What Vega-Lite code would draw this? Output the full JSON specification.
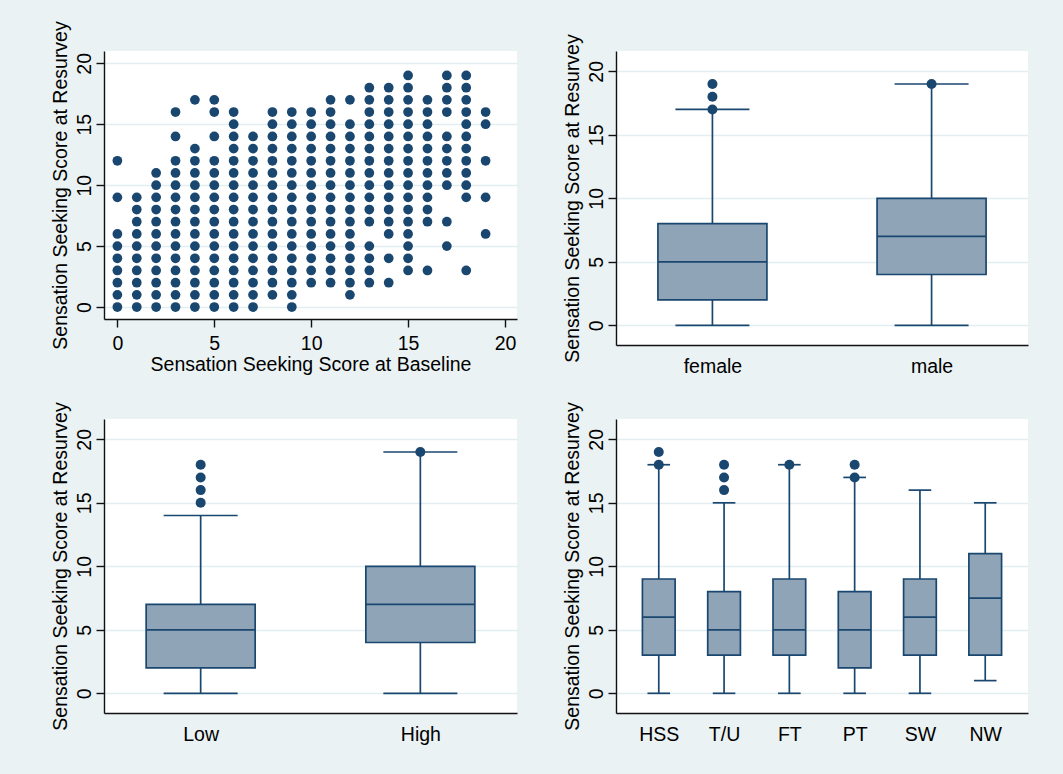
{
  "$schema": "https://vega.github.io/schema/vega-lite/v6.json",
  "background": "#EAF2F3",
  "padding": {"left": 49, "top": 20, "right": 35, "bottom": 31},
  "columns": 2,
  "bounds": "flush",
  "spacing": {"row": 74, "column": 99},
  "config": {
    "font": "Liberation Sans",
    "view": {"fill": "white", "stroke": null},
    "axis": {
      "labelFont": "Liberation Sans", "titleFont": "Liberation Sans",
      "labelFontSize": 19.5, "titleFontSize": 19.5,
      "labelColor": "#000000", "titleColor": "#000000", "titleFontWeight": "normal",
      "domainColor": "#111111", "tickColor": "#111111", "domainWidth": 1.4, "tickWidth": 1.4, "tickSize": 8,
      "gridColor": "#E4EDF0", "gridWidth": 1.6, "labelFlush": false, "labelOverlap": false
    },
    "axisX": {"grid": false},
    "axisY": {"grid": true, "labelAngle": -90, "labelAlign": "center", "labelBaseline": "bottom", "labelPadding": 2, "titlePadding": 4}
  },
  "datasets": {
    "scatter": [
      {"baseline":0,"resurvey":0},{"baseline":0,"resurvey":1},{"baseline":0,"resurvey":2},{"baseline":0,"resurvey":3},{"baseline":0,"resurvey":4},{"baseline":0,"resurvey":5},{"baseline":0,"resurvey":6},{"baseline":0,"resurvey":9},{"baseline":0,"resurvey":12},
      {"baseline":1,"resurvey":0},{"baseline":1,"resurvey":1},{"baseline":1,"resurvey":2},{"baseline":1,"resurvey":3},{"baseline":1,"resurvey":4},{"baseline":1,"resurvey":5},{"baseline":1,"resurvey":6},{"baseline":1,"resurvey":7},{"baseline":1,"resurvey":8},{"baseline":1,"resurvey":9},
      {"baseline":2,"resurvey":0},{"baseline":2,"resurvey":1},{"baseline":2,"resurvey":2},{"baseline":2,"resurvey":3},{"baseline":2,"resurvey":4},{"baseline":2,"resurvey":5},{"baseline":2,"resurvey":6},{"baseline":2,"resurvey":7},{"baseline":2,"resurvey":8},{"baseline":2,"resurvey":9},{"baseline":2,"resurvey":10},{"baseline":2,"resurvey":11},
      {"baseline":3,"resurvey":0},{"baseline":3,"resurvey":1},{"baseline":3,"resurvey":2},{"baseline":3,"resurvey":3},{"baseline":3,"resurvey":4},{"baseline":3,"resurvey":5},{"baseline":3,"resurvey":6},{"baseline":3,"resurvey":7},{"baseline":3,"resurvey":8},{"baseline":3,"resurvey":9},{"baseline":3,"resurvey":10},{"baseline":3,"resurvey":11},{"baseline":3,"resurvey":12},{"baseline":3,"resurvey":14},{"baseline":3,"resurvey":16},
      {"baseline":4,"resurvey":0},{"baseline":4,"resurvey":1},{"baseline":4,"resurvey":2},{"baseline":4,"resurvey":3},{"baseline":4,"resurvey":4},{"baseline":4,"resurvey":5},{"baseline":4,"resurvey":6},{"baseline":4,"resurvey":7},{"baseline":4,"resurvey":8},{"baseline":4,"resurvey":9},{"baseline":4,"resurvey":10},{"baseline":4,"resurvey":11},{"baseline":4,"resurvey":12},{"baseline":4,"resurvey":13},{"baseline":4,"resurvey":17},
      {"baseline":5,"resurvey":0},{"baseline":5,"resurvey":1},{"baseline":5,"resurvey":2},{"baseline":5,"resurvey":3},{"baseline":5,"resurvey":4},{"baseline":5,"resurvey":5},{"baseline":5,"resurvey":6},{"baseline":5,"resurvey":7},{"baseline":5,"resurvey":8},{"baseline":5,"resurvey":9},{"baseline":5,"resurvey":10},{"baseline":5,"resurvey":11},{"baseline":5,"resurvey":12},{"baseline":5,"resurvey":14},{"baseline":5,"resurvey":16},{"baseline":5,"resurvey":17},
      {"baseline":6,"resurvey":0},{"baseline":6,"resurvey":1},{"baseline":6,"resurvey":2},{"baseline":6,"resurvey":3},{"baseline":6,"resurvey":4},{"baseline":6,"resurvey":5},{"baseline":6,"resurvey":6},{"baseline":6,"resurvey":7},{"baseline":6,"resurvey":8},{"baseline":6,"resurvey":9},{"baseline":6,"resurvey":10},{"baseline":6,"resurvey":11},{"baseline":6,"resurvey":12},{"baseline":6,"resurvey":13},{"baseline":6,"resurvey":14},{"baseline":6,"resurvey":15},{"baseline":6,"resurvey":16},
      {"baseline":7,"resurvey":0},{"baseline":7,"resurvey":1},{"baseline":7,"resurvey":2},{"baseline":7,"resurvey":3},{"baseline":7,"resurvey":4},{"baseline":7,"resurvey":5},{"baseline":7,"resurvey":6},{"baseline":7,"resurvey":7},{"baseline":7,"resurvey":8},{"baseline":7,"resurvey":9},{"baseline":7,"resurvey":10},{"baseline":7,"resurvey":11},{"baseline":7,"resurvey":12},{"baseline":7,"resurvey":13},{"baseline":7,"resurvey":14},
      {"baseline":8,"resurvey":1},{"baseline":8,"resurvey":2},{"baseline":8,"resurvey":3},{"baseline":8,"resurvey":4},{"baseline":8,"resurvey":5},{"baseline":8,"resurvey":6},{"baseline":8,"resurvey":7},{"baseline":8,"resurvey":8},{"baseline":8,"resurvey":9},{"baseline":8,"resurvey":10},{"baseline":8,"resurvey":11},{"baseline":8,"resurvey":12},{"baseline":8,"resurvey":13},{"baseline":8,"resurvey":14},{"baseline":8,"resurvey":15},{"baseline":8,"resurvey":16},
      {"baseline":9,"resurvey":0},{"baseline":9,"resurvey":1},{"baseline":9,"resurvey":2},{"baseline":9,"resurvey":3},{"baseline":9,"resurvey":4},{"baseline":9,"resurvey":5},{"baseline":9,"resurvey":6},{"baseline":9,"resurvey":7},{"baseline":9,"resurvey":8},{"baseline":9,"resurvey":9},{"baseline":9,"resurvey":10},{"baseline":9,"resurvey":11},{"baseline":9,"resurvey":12},{"baseline":9,"resurvey":13},{"baseline":9,"resurvey":14},{"baseline":9,"resurvey":15},{"baseline":9,"resurvey":16},
      {"baseline":10,"resurvey":2},{"baseline":10,"resurvey":3},{"baseline":10,"resurvey":4},{"baseline":10,"resurvey":5},{"baseline":10,"resurvey":6},{"baseline":10,"resurvey":7},{"baseline":10,"resurvey":8},{"baseline":10,"resurvey":9},{"baseline":10,"resurvey":10},{"baseline":10,"resurvey":11},{"baseline":10,"resurvey":12},{"baseline":10,"resurvey":13},{"baseline":10,"resurvey":14},{"baseline":10,"resurvey":15},{"baseline":10,"resurvey":16},
      {"baseline":11,"resurvey":2},{"baseline":11,"resurvey":3},{"baseline":11,"resurvey":4},{"baseline":11,"resurvey":5},{"baseline":11,"resurvey":6},{"baseline":11,"resurvey":7},{"baseline":11,"resurvey":8},{"baseline":11,"resurvey":9},{"baseline":11,"resurvey":10},{"baseline":11,"resurvey":11},{"baseline":11,"resurvey":12},{"baseline":11,"resurvey":13},{"baseline":11,"resurvey":14},{"baseline":11,"resurvey":15},{"baseline":11,"resurvey":16},{"baseline":11,"resurvey":17},
      {"baseline":12,"resurvey":1},{"baseline":12,"resurvey":2},{"baseline":12,"resurvey":3},{"baseline":12,"resurvey":4},{"baseline":12,"resurvey":5},{"baseline":12,"resurvey":6},{"baseline":12,"resurvey":7},{"baseline":12,"resurvey":8},{"baseline":12,"resurvey":9},{"baseline":12,"resurvey":10},{"baseline":12,"resurvey":11},{"baseline":12,"resurvey":12},{"baseline":12,"resurvey":13},{"baseline":12,"resurvey":14},{"baseline":12,"resurvey":15},{"baseline":12,"resurvey":17},
      {"baseline":13,"resurvey":2},{"baseline":13,"resurvey":3},{"baseline":13,"resurvey":4},{"baseline":13,"resurvey":5},{"baseline":13,"resurvey":7},{"baseline":13,"resurvey":8},{"baseline":13,"resurvey":9},{"baseline":13,"resurvey":10},{"baseline":13,"resurvey":11},{"baseline":13,"resurvey":12},{"baseline":13,"resurvey":13},{"baseline":13,"resurvey":14},{"baseline":13,"resurvey":15},{"baseline":13,"resurvey":16},{"baseline":13,"resurvey":17},{"baseline":13,"resurvey":18},
      {"baseline":14,"resurvey":2},{"baseline":14,"resurvey":4},{"baseline":14,"resurvey":6},{"baseline":14,"resurvey":7},{"baseline":14,"resurvey":8},{"baseline":14,"resurvey":9},{"baseline":14,"resurvey":10},{"baseline":14,"resurvey":11},{"baseline":14,"resurvey":12},{"baseline":14,"resurvey":13},{"baseline":14,"resurvey":14},{"baseline":14,"resurvey":15},{"baseline":14,"resurvey":16},{"baseline":14,"resurvey":17},{"baseline":14,"resurvey":18},
      {"baseline":15,"resurvey":3},{"baseline":15,"resurvey":4},{"baseline":15,"resurvey":5},{"baseline":15,"resurvey":6},{"baseline":15,"resurvey":7},{"baseline":15,"resurvey":8},{"baseline":15,"resurvey":9},{"baseline":15,"resurvey":10},{"baseline":15,"resurvey":11},{"baseline":15,"resurvey":12},{"baseline":15,"resurvey":13},{"baseline":15,"resurvey":14},{"baseline":15,"resurvey":15},{"baseline":15,"resurvey":16},{"baseline":15,"resurvey":17},{"baseline":15,"resurvey":18},{"baseline":15,"resurvey":19},
      {"baseline":16,"resurvey":3},{"baseline":16,"resurvey":7},{"baseline":16,"resurvey":8},{"baseline":16,"resurvey":9},{"baseline":16,"resurvey":10},{"baseline":16,"resurvey":11},{"baseline":16,"resurvey":12},{"baseline":16,"resurvey":13},{"baseline":16,"resurvey":14},{"baseline":16,"resurvey":15},{"baseline":16,"resurvey":16},{"baseline":16,"resurvey":17},
      {"baseline":17,"resurvey":5},{"baseline":17,"resurvey":7},{"baseline":17,"resurvey":10},{"baseline":17,"resurvey":11},{"baseline":17,"resurvey":12},{"baseline":17,"resurvey":13},{"baseline":17,"resurvey":14},{"baseline":17,"resurvey":16},{"baseline":17,"resurvey":17},{"baseline":17,"resurvey":18},{"baseline":17,"resurvey":19},
      {"baseline":18,"resurvey":3},{"baseline":18,"resurvey":9},{"baseline":18,"resurvey":10},{"baseline":18,"resurvey":11},{"baseline":18,"resurvey":12},{"baseline":18,"resurvey":13},{"baseline":18,"resurvey":14},{"baseline":18,"resurvey":15},{"baseline":18,"resurvey":16},{"baseline":18,"resurvey":17},{"baseline":18,"resurvey":18},{"baseline":18,"resurvey":19},
      {"baseline":19,"resurvey":6},{"baseline":19,"resurvey":9},{"baseline":19,"resurvey":12},{"baseline":19,"resurvey":15},{"baseline":19,"resurvey":16}
    ],
    "boxSex": [
      {"group":"female","lo":0,"q1":2,"med":5,"q3":8,"hi":17},
      {"group":"male","lo":0,"q1":4,"med":7,"q3":10,"hi":19}
    ],
    "outSex": [
      {"group":"female","value":17},{"group":"female","value":18},{"group":"female","value":19},{"group":"male","value":19}
    ],
    "boxLevel": [
      {"group":"Low","lo":0,"q1":2,"med":5,"q3":7,"hi":14},
      {"group":"High","lo":0,"q1":4,"med":7,"q3":10,"hi":19}
    ],
    "outLevel": [
      {"group":"Low","value":15},{"group":"Low","value":16},{"group":"Low","value":17},{"group":"Low","value":18},{"group":"High","value":19}
    ],
    "boxWork": [
      {"group":"HSS","lo":0,"q1":3,"med":6,"q3":9,"hi":18},
      {"group":"T/U","lo":0,"q1":3,"med":5,"q3":8,"hi":15},
      {"group":"FT","lo":0,"q1":3,"med":5,"q3":9,"hi":18},
      {"group":"PT","lo":0,"q1":2,"med":5,"q3":8,"hi":17},
      {"group":"SW","lo":0,"q1":3,"med":6,"q3":9,"hi":16},
      {"group":"NW","lo":1,"q1":3,"med":7.5,"q3":11,"hi":15}
    ],
    "outWork": [
      {"group":"HSS","value":18},{"group":"HSS","value":19},
      {"group":"T/U","value":16},{"group":"T/U","value":17},{"group":"T/U","value":18},
      {"group":"FT","value":18},
      {"group":"PT","value":17},{"group":"PT","value":18}
    ]
  },
  "concat": [
    {
      "width": 413, "height": 268,
      "data": {"name": "scatter"},
      "mark": {"type": "point", "filled": true, "size": 95, "color": "#1A476F", "opacity": 1},
      "encoding": {
        "x": {"field": "baseline", "type": "quantitative",
              "scale": {"domain": [-0.69, 20.62], "nice": false, "zero": false},
              "axis": {"title": "Sensation Seeking Score at Baseline", "values": [0,5,10,15,20], "labelPadding": 7, "titlePadding": 3}},
        "y": {"field": "resurvey", "type": "quantitative",
              "scale": {"domain": [-0.98, 21.01], "nice": false, "zero": false},
              "axis": {"title": "Sensation Seeking Score at Resurvey", "values": [0,5,10,15,20]}}
      }
    },
    {
      "width": 412, "height": 294,
      "encoding": {
        "x": {"field": "group", "type": "nominal",
              "scale": {"type": "point", "padding": 0.44, "domain": ["female","male"]},
              "axis": {"title": null, "ticks": false, "tickSize": 0, "labelPadding": 12, "labelAngle": 0}}
      },
      "layer": [
        {"data": {"name": "boxSex"}, "mark": {"type": "rule", "color": "#1A476F", "strokeWidth": 1.7},
         "encoding": {"y": {"field": "lo", "type": "quantitative", "title": "Sensation Seeking Score at Resurvey",
                            "scale": {"domain": [-1.55, 21.6], "nice": false, "zero": false},
                            "axis": {"values": [0,5,10,15,20]}},
                      "y2": {"field": "hi"}}},
        {"data": {"name": "boxSex"}, "mark": {"type": "bar", "size": 109, "fill": "#90A4B8", "stroke": "#1A476F", "strokeWidth": 1.7},
         "encoding": {"y": {"field": "q1", "type": "quantitative", "title": "Sensation Seeking Score at Resurvey"}, "y2": {"field": "q3"}}},
        {"data": {"name": "boxSex"}, "mark": {"type": "tick", "size": 109, "thickness": 1.7, "color": "#1A476F", "opacity": 1},
         "encoding": {"y": {"field": "med", "type": "quantitative", "title": "Sensation Seeking Score at Resurvey"}}},
        {"data": {"name": "boxSex"}, "mark": {"type": "tick", "size": 74, "thickness": 1.7, "color": "#1A476F", "opacity": 1},
         "encoding": {"y": {"field": "lo", "type": "quantitative", "title": "Sensation Seeking Score at Resurvey"}}},
        {"data": {"name": "boxSex"}, "mark": {"type": "tick", "size": 74, "thickness": 1.7, "color": "#1A476F", "opacity": 1},
         "encoding": {"y": {"field": "hi", "type": "quantitative", "title": "Sensation Seeking Score at Resurvey"}}},
        {"data": {"name": "outSex"}, "mark": {"type": "point", "filled": true, "size": 100, "color": "#1A476F", "opacity": 1},
         "encoding": {"y": {"field": "value", "type": "quantitative", "title": "Sensation Seeking Score at Resurvey"}}}
      ]
    },
    {
      "width": 413, "height": 294,
      "encoding": {
        "x": {"field": "group", "type": "nominal",
              "scale": {"type": "point", "padding": 0.44, "domain": ["Low","High"]},
              "axis": {"title": null, "ticks": false, "tickSize": 0, "labelPadding": 12, "labelAngle": 0}}
      },
      "layer": [
        {"data": {"name": "boxLevel"}, "mark": {"type": "rule", "color": "#1A476F", "strokeWidth": 1.7},
         "encoding": {"y": {"field": "lo", "type": "quantitative", "title": "Sensation Seeking Score at Resurvey",
                            "scale": {"domain": [-1.55, 21.6], "nice": false, "zero": false},
                            "axis": {"values": [0,5,10,15,20]}},
                      "y2": {"field": "hi"}}},
        {"data": {"name": "boxLevel"}, "mark": {"type": "bar", "size": 109, "fill": "#90A4B8", "stroke": "#1A476F", "strokeWidth": 1.7},
         "encoding": {"y": {"field": "q1", "type": "quantitative", "title": "Sensation Seeking Score at Resurvey"}, "y2": {"field": "q3"}}},
        {"data": {"name": "boxLevel"}, "mark": {"type": "tick", "size": 109, "thickness": 1.7, "color": "#1A476F", "opacity": 1},
         "encoding": {"y": {"field": "med", "type": "quantitative", "title": "Sensation Seeking Score at Resurvey"}}},
        {"data": {"name": "boxLevel"}, "mark": {"type": "tick", "size": 74, "thickness": 1.7, "color": "#1A476F", "opacity": 1},
         "encoding": {"y": {"field": "lo", "type": "quantitative", "title": "Sensation Seeking Score at Resurvey"}}},
        {"data": {"name": "boxLevel"}, "mark": {"type": "tick", "size": 74, "thickness": 1.7, "color": "#1A476F", "opacity": 1},
         "encoding": {"y": {"field": "hi", "type": "quantitative", "title": "Sensation Seeking Score at Resurvey"}}},
        {"data": {"name": "outLevel"}, "mark": {"type": "point", "filled": true, "size": 100, "color": "#1A476F", "opacity": 1},
         "encoding": {"y": {"field": "value", "type": "quantitative", "title": "Sensation Seeking Score at Resurvey"}}}
      ]
    },
    {
      "width": 412, "height": 294,
      "encoding": {
        "x": {"field": "group", "type": "nominal",
              "scale": {"type": "point", "padding": 0.655, "domain": ["HSS","T/U","FT","PT","SW","NW"]},
              "axis": {"title": null, "ticks": false, "tickSize": 0, "labelPadding": 12, "labelAngle": 0}}
      },
      "layer": [
        {"data": {"name": "boxWork"}, "mark": {"type": "rule", "color": "#1A476F", "strokeWidth": 1.7},
         "encoding": {"y": {"field": "lo", "type": "quantitative", "title": "Sensation Seeking Score at Resurvey",
                            "scale": {"domain": [-1.55, 21.6], "nice": false, "zero": false},
                            "axis": {"values": [0,5,10,15,20]}},
                      "y2": {"field": "hi"}}},
        {"data": {"name": "boxWork"}, "mark": {"type": "bar", "size": 32.7, "fill": "#90A4B8", "stroke": "#1A476F", "strokeWidth": 1.7},
         "encoding": {"y": {"field": "q1", "type": "quantitative", "title": "Sensation Seeking Score at Resurvey"}, "y2": {"field": "q3"}}},
        {"data": {"name": "boxWork"}, "mark": {"type": "tick", "size": 32.7, "thickness": 1.7, "color": "#1A476F", "opacity": 1},
         "encoding": {"y": {"field": "med", "type": "quantitative", "title": "Sensation Seeking Score at Resurvey"}}},
        {"data": {"name": "boxWork"}, "mark": {"type": "tick", "size": 22.6, "thickness": 1.7, "color": "#1A476F", "opacity": 1},
         "encoding": {"y": {"field": "lo", "type": "quantitative", "title": "Sensation Seeking Score at Resurvey"}}},
        {"data": {"name": "boxWork"}, "mark": {"type": "tick", "size": 22.6, "thickness": 1.7, "color": "#1A476F", "opacity": 1},
         "encoding": {"y": {"field": "hi", "type": "quantitative", "title": "Sensation Seeking Score at Resurvey"}}},
        {"data": {"name": "outWork"}, "mark": {"type": "point", "filled": true, "size": 100, "color": "#1A476F", "opacity": 1},
         "encoding": {"y": {"field": "value", "type": "quantitative", "title": "Sensation Seeking Score at Resurvey"}}}
      ]
    }
  ]
}
